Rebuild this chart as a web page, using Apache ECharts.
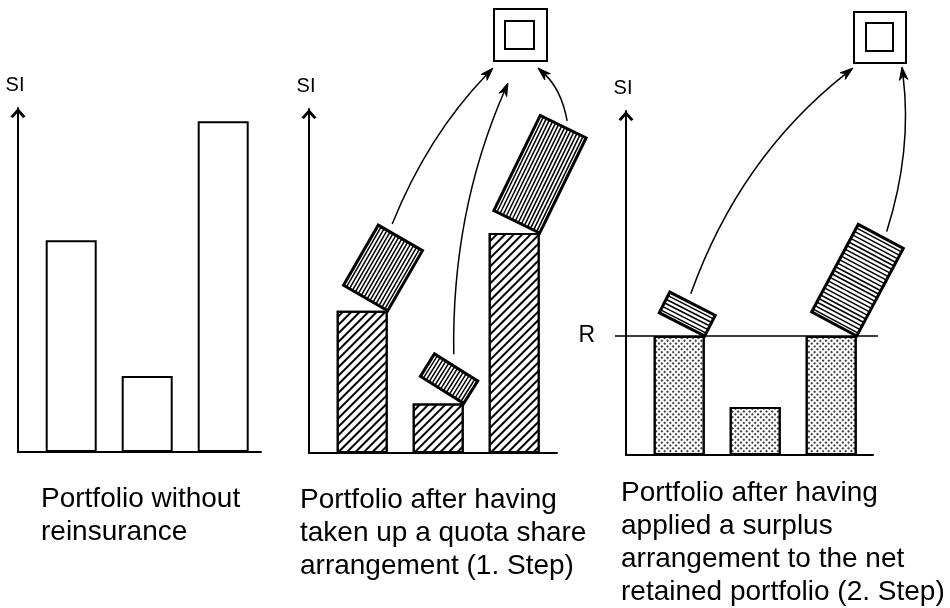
<!DOCTYPE html>
<html><head><meta charset="utf-8">
<script src="https://cdn.jsdelivr.net/npm/echarts@6/dist/echarts.min.js"></script>
<style>html,body{margin:0;padding:0;background:#fff}#c{width:950px;height:608px}</style>
</head><body><div id="c"></div>
<script>
// ---- data (SI in arbitrary units) ----
const riskPositions = [0.7, 1.7, 2.7];          // position of the three risks on the x axis
const sumInsured = [64, 23, 100];               // portfolio without reinsurance
const quotaRetained = [43, 15, 66.5];           // retained after quota share
const quotaCeded = [21, 8, 32];                 // ceded under quota share
const retentionR = 36;                          // surplus retention line R
const surplusRetained = [36, 14.5, 36];         // net retained after surplus
const surplusCeded = [7, 0, 30];                // ceded under surplus
const yTopValue = 104;
const axisName = 'SI';
const retentionLabel = 'R';
const captions = [
  'Portfolio without\nreinsurance',
  'Portfolio after having\ntaken up a quota share\narrangement (1. Step)',
  'Portfolio after having\napplied a surplus\narrangement to the net\nretained portfolio (2. Step)'
];

// ---- layout / style ----
const FONT = '"Liberation Sans", Arial, Helvetica, sans-serif';
const BAR_W = 51;
const grids = [
  {left: 18, top: 108, width: 243, height: 344},
  {left: 309, top: 109, width: 248, height: 344},
  {left: 626, top: 111, width: 247, height: 344}
];
const reinsurer = [
  {x: 494, y: 9, w: 53, h: 52, ix: 505, iy: 21, iw: 29, ih: 28},
  {x: 854, y: 12, w: 52, h: 51, ix: 866, iy: 23, iw: 27, ih: 28}
];
const arrowCfg = [
  { tilts: [30, 32, 26], hatch: 'v',
    starts: [[-14, -8], [-9, -10], [1, -7]],
    ends: [[493, 68], [508, 83], [538, 68]],
    bends: [18, 30, -10] },
  { tilts: [27, 0, 28], hatch: 'h',
    starts: [[-6, -8], null, [3, -7]],
    ends: [[853, 68], null, [902, 67]],
    bends: [40, 0, -18] }
];
const captionPos = [[41, 483], [300, 484], [621, 477]];

function makeCededRender(cfg) {
  return function (params, api) {
    const i = params.dataIndex;
    const x = api.value(0), r = api.value(1), c = api.value(2);
    if (!(c > 0)) return null;
    const base = api.coord([x, r]);
    const px = base[0] + BAR_W / 2, py = base[1];
    const h = api.size([0, c])[1];
    const w = BAR_W;
    const th = cfg.tilts[i] * Math.PI / 180;
    const cs = Math.cos(th), sn = Math.sin(th);
    const toG = (lx, ly) => [px + lx * cs - ly * sn, py + lx * sn + ly * cs];
    const boxChildren = [{
      type: 'rect', shape: {x: -w, y: -h, width: w, height: h},
      style: {fill: '#fff', stroke: '#000', lineWidth: 3}
    }];
    if (cfg.hatch === 'v') {
      for (let lx = -w + 3.4; lx < -1.5; lx += 3.4) {
        boxChildren.push({type: 'line', shape: {x1: lx, y1: -h + 1, x2: lx, y2: -1},
          style: {stroke: '#000', lineWidth: 1.5}});
      }
    } else {
      for (let ly = -h + 4; ly < -1.5; ly += 4) {
        boxChildren.push({type: 'line', shape: {x1: -w + 1, y1: ly, x2: -1, y2: ly},
          style: {stroke: '#000', lineWidth: 1.5}});
      }
    }
    const st = cfg.starts[i];
    const S = toG(-w / 2 + st[0], -h + st[1]);
    const E = cfg.ends[i];
    const dx = E[0] - S[0], dy = E[1] - S[1];
    const L = Math.hypot(dx, dy);
    const nx = dy / L, ny = -dx / L;
    const b = cfg.bends[i];
    const C = [(S[0] + E[0]) / 2 + nx * b, (S[1] + E[1]) / 2 + ny * b];
    let ux = E[0] - C[0], uy = E[1] - C[1];
    const ul = Math.hypot(ux, uy); ux /= ul; uy /= ul;
    const hl = 13, hw = 4.2;
    const back = [E[0] - ux * hl, E[1] - uy * hl];
    const notch = [E[0] - ux * 9, E[1] - uy * 9];
    const head = [E, [back[0] - uy * hw, back[1] + ux * hw], notch, [back[0] + uy * hw, back[1] - ux * hw]];
    return {
      type: 'group',
      children: [
        {type: 'group', x: px, y: py, rotation: -th, children: boxChildren},
        {type: 'bezierCurve',
          shape: {x1: S[0], y1: S[1], x2: notch[0], y2: notch[1], cpx1: C[0], cpy1: C[1]},
          style: {stroke: '#000', lineWidth: 1.5, fill: 'none'}},
        {type: 'polygon', shape: {points: head}, style: {fill: '#000', stroke: '#000', lineWidth: 1}}
      ]
    };
  };
}

const chart = echarts.init(document.getElementById('c'), null, {renderer: 'canvas'});

const xAxes = grids.map((g, i) => ({
  gridIndex: i, type: 'value', min: 0, max: g.width / 76,
  axisLine: {show: true, onZero: false, lineStyle: {color: '#000', width: 2}},
  axisTick: {show: false}, axisLabel: {show: false}, splitLine: {show: false}
}));
const yAxes = grids.map((g, i) => ({
  gridIndex: i, type: 'value', min: 0, max: yTopValue,
  name: axisName, nameLocation: 'end', nameGap: 13,
  nameTextStyle: {color: '#000', fontSize: 20, fontFamily: FONT, padding: [0, 6, 0, 0]},
  axisLine: {show: true, onZero: false,
    symbol: ['none', 'path://M0,8.5 L7.5,0 L15,8.5 L12.6,10 L7.5,4.2 L2.4,10 Z'],
    symbolSize: [15, 10], symbolOffset: [0, -5],
    lineStyle: {color: '#000', width: 2}},
  axisTick: {show: false}, axisLabel: {show: false}, splitLine: {show: false}
}));

const pairs = (vals) => riskPositions.map((x, i) => [x, vals[i]]);
const triples = (ret, ced) => riskPositions.map((x, i) => [x, ret[i], ced[i]]);

const barStyle = {color: '#fff', borderColor: '#000', borderWidth: 2};

const graphics = [];
reinsurer.forEach(s => {
  graphics.push({type: 'rect', shape: {x: s.x, y: s.y, width: s.w, height: s.h},
    style: {fill: 'transparent', stroke: '#000', lineWidth: 2}});
  graphics.push({type: 'rect', shape: {x: s.ix, y: s.iy, width: s.iw, height: s.ih},
    style: {fill: 'transparent', stroke: '#000', lineWidth: 2}});
});
captions.forEach((t, i) => {
  graphics.push({type: 'text', x: captionPos[i][0], y: captionPos[i][1],
    style: {text: t, fill: '#000', fontSize: 28, fontFamily: FONT, lineHeight: 33,
      align: 'left', verticalAlign: 'top'}});
});

chart.setOption({
  animation: false,
  backgroundColor: '#fff',
  grid: grids.map(g => Object.assign({containLabel: false}, g)),
  xAxis: xAxes,
  yAxis: yAxes,
  graphic: graphics,
  series: [
    {type: 'bar', xAxisIndex: 0, yAxisIndex: 0, barWidth: BAR_W, data: pairs(sumInsured),
      itemStyle: barStyle},
    {type: 'bar', xAxisIndex: 1, yAxisIndex: 1, barWidth: BAR_W, data: pairs(quotaRetained),
      itemStyle: Object.assign({}, barStyle, {
        decal: {symbol: 'rect', symbolSize: 1, dashArrayX: [1, 0], dashArrayY: [1.3, 3.3],
          rotation: -Math.PI / 4, color: '#000'}})},
    {type: 'custom', xAxisIndex: 1, yAxisIndex: 1, z: 3, clip: false,
      data: triples(quotaRetained, quotaCeded), renderItem: makeCededRender(arrowCfg[0])},
    {type: 'bar', xAxisIndex: 2, yAxisIndex: 2, barWidth: BAR_W, data: pairs(surplusRetained),
      itemStyle: Object.assign({}, barStyle, {
        decal: {symbol: 'circle', symbolSize: 1, dashArrayX: [2, 1.5], dashArrayY: [2, 1.5],
          rotation: Math.PI / 4, color: '#000'}}),
      markLine: {silent: true, symbol: ['none', 'none'],
        lineStyle: {color: '#000', width: 1.5, type: 'solid'},
        label: {show: true, position: 'start', formatter: retentionLabel, color: '#000',
          fontSize: 23, fontFamily: FONT, distance: 20},
        data: [[{x: 615, yAxis: retentionR}, {x: 878, yAxis: retentionR}]]}},
    {type: 'custom', xAxisIndex: 2, yAxisIndex: 2, z: 3, clip: false,
      data: triples(surplusRetained, surplusCeded), renderItem: makeCededRender(arrowCfg[1])}
  ]
});
</script>
</body></html>
